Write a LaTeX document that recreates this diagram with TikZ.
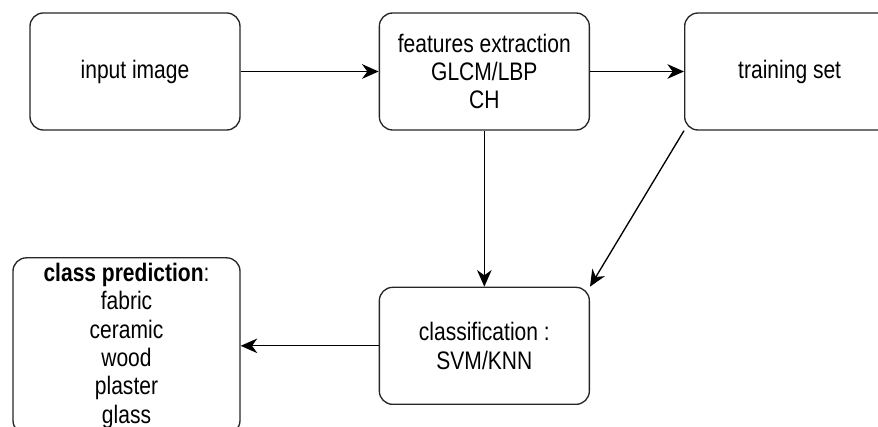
\documentclass[tikz,border=0pt]{standalone}
\usepackage{fontspec}
\setmainfont[FakeStretch=0.83]{Liberation Sans}
\usetikzlibrary{arrows.meta,positioning}

\begin{document}
\begin{tikzpicture}[node distance=103.5pt,>={Stealth[length=12.5pt,width=11pt,inset=4pt]},line width=1pt]
    % frame of the page, boxes running off it are cut
    \path [use as bounding box,clip] (0,0) rectangle (658.5pt,-320.25pt);
    \tikzstyle{stage}=[rectangle,rounded corners=10pt,draw=black!85,fill=white,
    minimum width=157.5pt,minimum height=87.75pt,inner sep=0pt,align=center,
    font=\fontsize{19}{21.3}\selectfont]
    \tikzstyle{result}=[stage,minimum width=170.25pt,minimum height=132pt]

    \node [stage]  (input)      at (101.25pt,-53.625pt) {input image};
    \node [stage]  (features)   [right=of input] {features extraction\\GLCM/LBP\\CH};
    \node [stage]  (training)   [right=70.5pt of features] {training set};
    \node [stage]  (classif)    [below=117pt of features] {classification :\\SVM/KNN};
    \node [result] (prediction) [left=of classif] {\textbf{class prediction}:\\fabric\\ceramic\\wood\\plaster\\glass};

    \path (input) edge [->] (features);
    \path (features) edge [->] (training);
    \path (features) edge [->] (classif);
    \path (training.south west) edge [->] (classif.north east);
    \path (classif) edge [->] (prediction);

\end{tikzpicture}
\end{document}
